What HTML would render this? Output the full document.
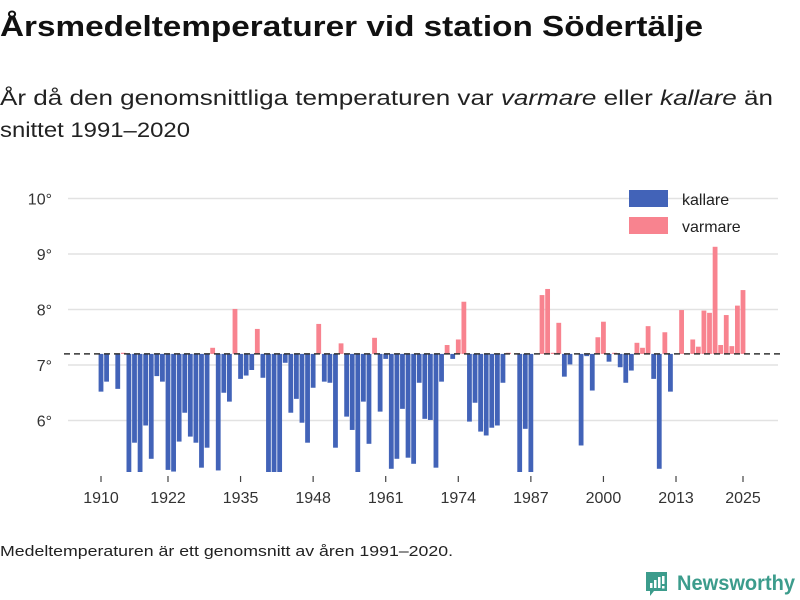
<!DOCTYPE html>
<html><head><meta charset="utf-8"><style>
html,body{margin:0;padding:0;background:#fff;}
svg{display:block;font-family:"Liberation Sans","DejaVu Sans",sans-serif;}
</style></head><body>
<svg id="chart" width="800" height="600" viewBox="0 0 800 600">
<text x="0" y="36" font-size="29" font-weight="bold" fill="#111" textLength="703" lengthAdjust="spacingAndGlyphs">Årsmedeltemperaturer vid station Södertälje</text>
<text x="0" y="105" font-size="21" fill="#222" textLength="773" lengthAdjust="spacingAndGlyphs">År då den genomsnittliga temperaturen var <tspan font-style="italic">varmare</tspan> eller <tspan font-style="italic">kallare</tspan> än</text>
<text x="0" y="137" font-size="21" fill="#222" textLength="190" lengthAdjust="spacingAndGlyphs">snittet 1991–2020</text>
<g id="grid"></g>
<g id="bars"></g>
<g id="axes"></g>
<g>
<rect x="629" y="190" width="39" height="17" fill="#4263b8"/>
<text x="682" y="205" font-size="16" fill="#222">kallare</text>
<rect x="629" y="217" width="39" height="17" fill="#f8838f"/>
<text x="682" y="232" font-size="16" fill="#222">varmare</text>
</g>
<text x="0" y="556" font-size="15" fill="#222" textLength="453" lengthAdjust="spacingAndGlyphs">Medeltemperaturen är ett genomsnitt av åren 1991–2020.</text>
<g>
<path d="M646 572 h21 v19 h-13 l-4 5 v-5 h-4 z" fill="#3c9c8c"/>
<rect x="650" y="583" width="2.5" height="5" fill="#fff"/><rect x="654" y="580" width="2.5" height="8" fill="#fff"/><rect x="658" y="577" width="2.5" height="11" fill="#fff"/><rect x="662" y="576" width="2.5" height="8" fill="#fff"/><rect x="662" y="586" width="2.5" height="2.5" fill="#fff"/>
<text x="677" y="590" font-size="21" font-weight="bold" fill="#3c9c8c" textLength="118" lengthAdjust="spacingAndGlyphs">Newsworthy</text>
</g>
</svg>
<script>
const years = [];
for (let y = 1910; y <= 2025; y++) years.push(y);
const temps = [
6.52,6.70,7.20,6.57,7.22,5.0,5.60,5.0,5.91,5.31,
6.80,6.70,5.11,5.08,5.62,6.14,5.71,5.60,5.15,5.51,
7.31,5.10,6.50,6.34,8.01,6.75,6.81,6.91,7.65,6.77,
5.0,5.0,5.0,7.04,6.14,6.39,5.96,5.60,6.59,7.74,
6.70,6.68,5.51,7.39,6.07,5.83,5.0,6.34,5.58,7.49,
6.16,7.11,5.13,5.31,6.21,5.33,5.22,6.68,6.03,6.01,
5.15,6.70,7.36,7.11,7.46,8.14,5.98,6.32,5.80,5.73,
5.87,5.91,6.68,7.22,7.20,5.0,5.85,5.0,7.20,8.26,
8.37,7.22,7.76,6.79,7.01,7.20,5.55,7.16,6.54,7.50,
7.78,7.06,7.22,6.96,6.68,6.90,7.40,7.31,7.70,6.75,
5.13,7.59,6.52,7.20,7.99,7.20,7.46,7.33,7.98,7.94,
9.13,7.36,7.90,7.34,8.07,8.35];
const baseline = 7.2;
const yTicks = [6,7,8,9,10];
const yTickLabels = ["6°","7°","8°","9°","10°"];
const xTicks = [1910,1922,1935,1948,1961,1974,1987,2000,2013,2025];

const NS = "http://www.w3.org/2000/svg";
const xScale = yr => 101 + (yr - 1910) * (642 / 115);
const yScale = v => 365 - (v - 7) * 55.5;
const plotBottom = 472;
function mk(tag, attrs, parent) {
  const e = document.createElementNS(NS, tag);
  for (const k in attrs) e.setAttribute(k, attrs[k]);
  parent.appendChild(e);
  return e;
}
const grid = document.getElementById('grid');
const bars = document.getElementById('bars');
const axes = document.getElementById('axes');
yTicks.forEach((t, i) => {
  const gl = mk('line', {x1: 68, x2: 778, y1: yScale(t), y2: yScale(t), stroke: '#e2e2e2', 'stroke-width': 1.5}, grid);
  
  
  const tl = mk('text', {x: 52, y: yScale(t) + 6, 'font-size': 16, fill: '#333', 'text-anchor': 'end'}, axes);
  tl.textContent = yTickLabels[i];
  
  
});
years.forEach((yr, i) => {
  const v = temps[i];
  if (Math.abs(v - baseline) < 0.005) return;
  const x = xScale(yr) - 2.4;
  let y1 = yScale(Math.max(v, baseline)), y2 = Math.min(yScale(Math.min(v, baseline)), plotBottom);
  const r = mk('rect', {x: x, y: y1, width: 4.8, height: Math.max(y2 - y1, 1), fill: v > baseline ? '#f8838f' : '#4263b8'}, bars);
  
  
});
const bl = mk('line', {x1: 64, x2: 780, y1: yScale(baseline), y2: yScale(baseline), stroke: '#333', 'stroke-width': 1.5, 'stroke-dasharray': '6,4'}, axes);


xTicks.forEach(t => {
  const tm = mk('line', {x1: xScale(t), x2: xScale(t), y1: 476, y2: 482, stroke: '#444', 'stroke-width': 1.2}, axes);
  
  
  const tl = mk('text', {x: xScale(t), y: 503, 'font-size': 16, fill: '#333', 'text-anchor': 'middle'}, axes);
  tl.textContent = t;
  
  
});
</script>
</body></html>
